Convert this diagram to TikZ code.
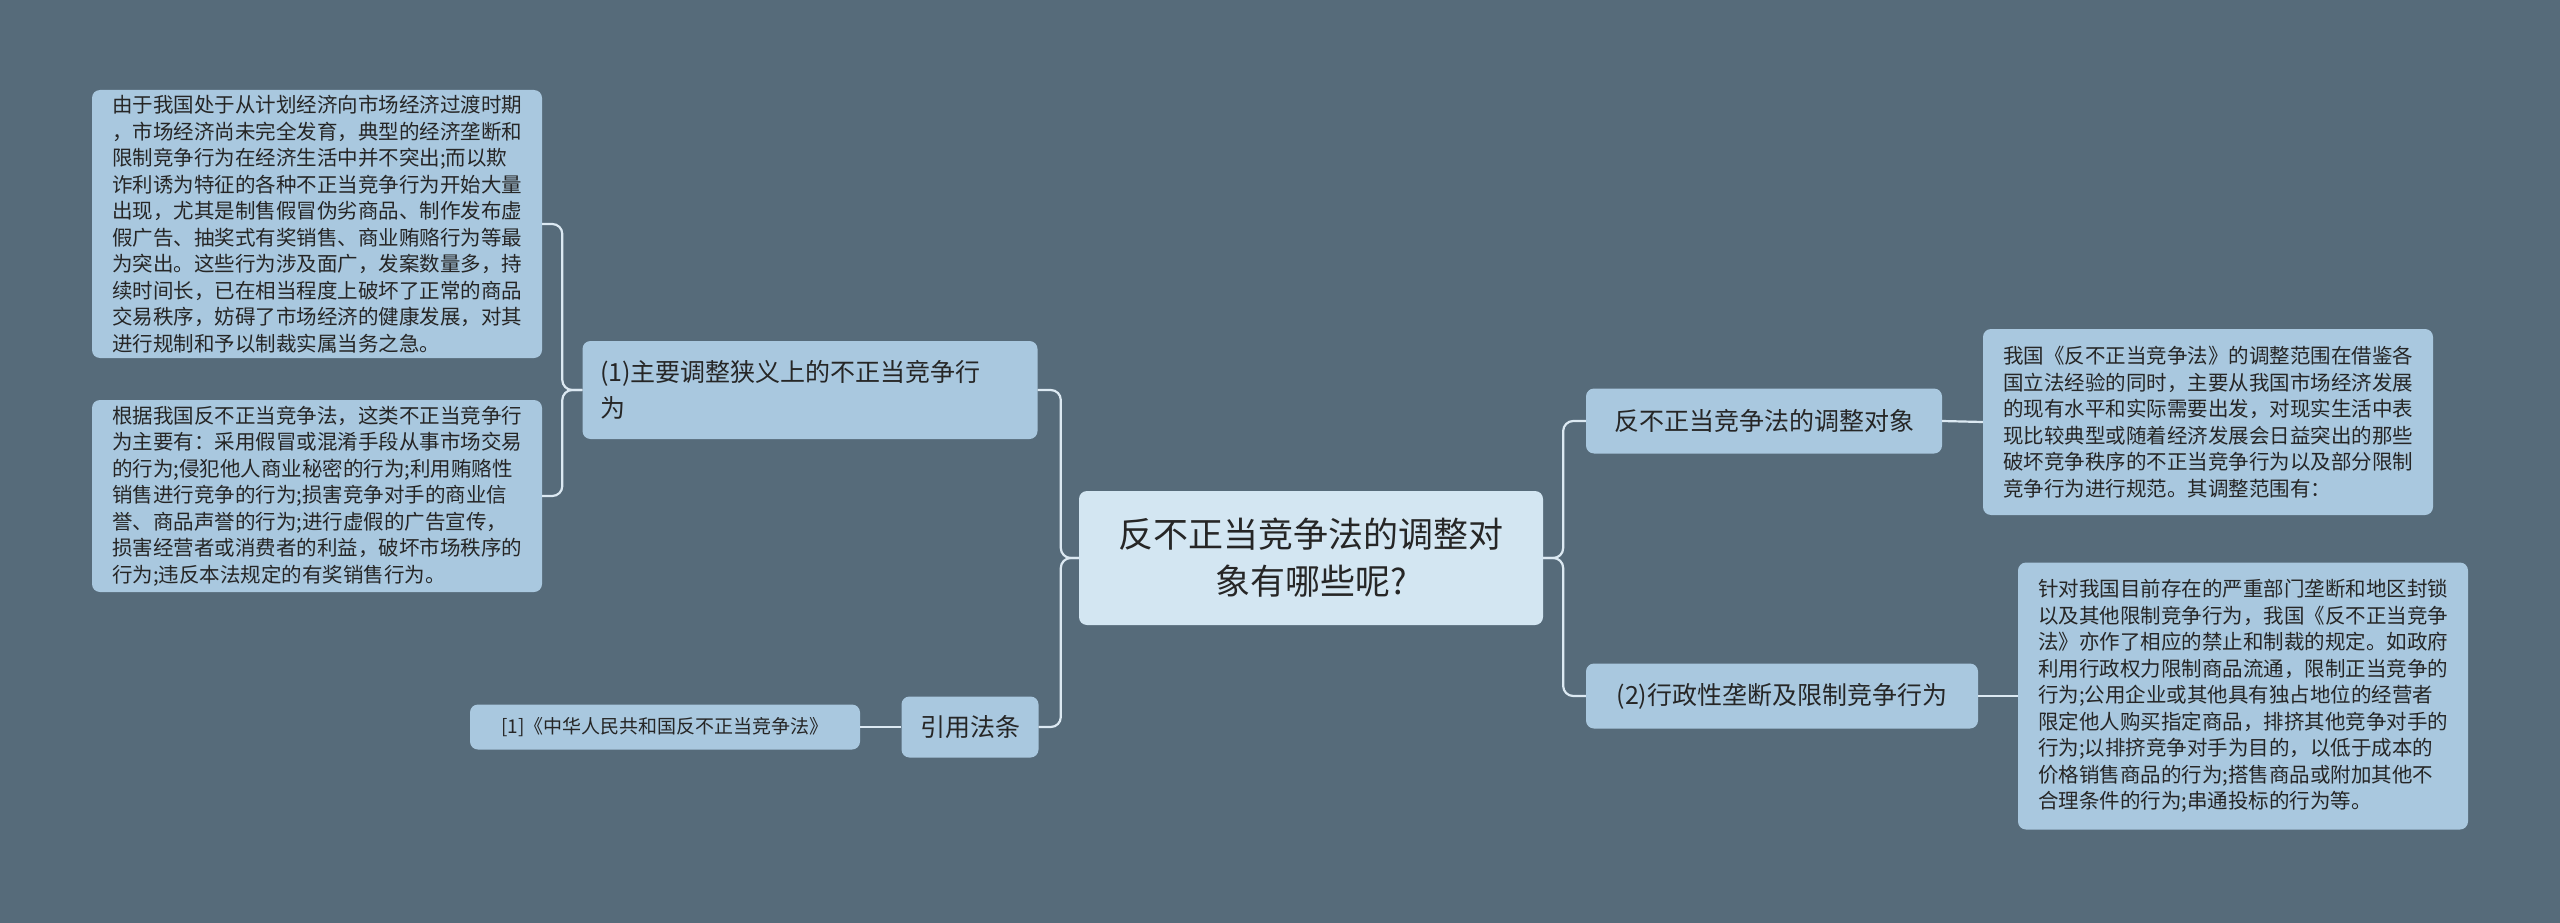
\documentclass[tikz,border=0pt]{standalone}
\usepackage{fontspec}
\setmainfont{Noto Sans CJK SC}
\begin{document}
\begin{tikzpicture}[x=1pt,y=-1pt,
  bx/.style={rounded corners=8pt,fill=nodec,inner sep=0pt,text=black!85,align=left},
  leaf/.style={bx,font=\fontsize{20.5}{26.5}\selectfont},
  br/.style={bx,font=\fontsize{25}{36}\selectfont},
  conn/.style={draw=linec,line width=2.2pt,rounded corners=10pt}]
\definecolor{bgc}{HTML}{566B7A}
\definecolor{nodec}{HTML}{A9C8DF}
\definecolor{rootc}{HTML}{D3E6F2}
\definecolor{linec}{HTML}{DCE9F2}
\fill[bgc] (0,0) rectangle (2560,923);
\useasboundingbox (0,0) rectangle (2560,923);
\node[bx,fill=rootc,minimum width=464pt,minimum height=134pt,align=center,font=\fontsize{35}{47}\selectfont] (root) at (1311,558) {反不正当竞争法的调整对\\象有哪些呢?};
\node[br,minimum width=455pt,minimum height=98pt] (n1) at (810,390) {(1)主要调整狭义上的不正当竞争行\\为\hspace*{395pt}};
\node[br,minimum width=137pt,minimum height=61pt,align=center] (cite) at (970,727) {引用法条};
\node[bx,minimum width=390pt,minimum height=45pt,align=center,font=\fontsize{19}{24}\selectfont] (c1) at (665,727) {[1]《中华人民共和国反不正当竞争法》};
\node[br,minimum width=356pt,minimum height=65pt,align=center] (r1) at (1764,421) {反不正当竞争法的调整对象};
\node[br,minimum width=392pt,minimum height=65pt,align=center] (r2) at (1782,696) {(2)行政性垄断及限制竞争行为};
\node[leaf,minimum width=450pt,minimum height=268pt] (l1) at (317,224) {由于我国处于从计划经济向市场经济过渡时期\\，市场经济尚未完全发育，典型的经济垄断和\\限制竞争行为在经济生活中并不突出;而以欺\\诈利诱为特征的各种不正当竞争行为开始大量\\出现，尤其是制售假冒伪劣商品、制作发布虚\\假广告、抽奖式有奖销售、商业贿赂行为等最\\为突出。这些行为涉及面广，发案数量多，持\\续时间长，已在相当程度上破坏了正常的商品\\交易秩序，妨碍了市场经济的健康发展，对其\\进行规制和予以制裁实属当务之急。};
\node[leaf,minimum width=450pt,minimum height=192pt] (l2) at (317,496) {根据我国反不正当竞争法，这类不正当竞争行\\为主要有：采用假冒或混淆手段从事市场交易\\的行为;侵犯他人商业秘密的行为;利用贿赂性\\销售进行竞争的行为;损害竞争对手的商业信\\誉、商品声誉的行为;进行虚假的广告宣传，\\损害经营者或消费者的利益，破坏市场秩序的\\行为;违反本法规定的有奖销售行为。};
\node[leaf,minimum width=450pt,minimum height=186pt] (rl1) at (2208,422) {我国《反不正当竞争法》的调整范围在借鉴各\\国立法经验的同时，主要从我国市场经济发展\\的现有水平和实际需要出发，对现实生活中表\\现比较典型或随着经济发展会日益突出的那些\\破坏竞争秩序的不正当竞争行为以及部分限制\\竞争行为进行规范。其调整范围有：};
\node[leaf,minimum width=450pt,minimum height=267pt] (rl2) at (2243,696) {针对我国目前存在的严重部门垄断和地区封锁\\以及其他限制竞争行为，我国《反不正当竞争\\法》亦作了相应的禁止和制裁的规定。如政府\\利用行政权力限制商品流通，限制正当竞争的\\行为;公用企业或其他具有独占地位的经营者\\限定他人购买指定商品，排挤其他竞争对手的\\行为;以排挤竞争对手为目的，以低于成本的\\价格销售商品的行为;搭售商品或附加其他不\\合理条件的行为;串通投标的行为等。};
% connectors
\draw[conn] (root.west) -- ++(-18,0) |- (n1.east);
\draw[conn] (root.west) -- ++(-18,0) |- (cite.east);
\draw[conn] (root.east) -- ++(20,0) |- (r1.west);
\draw[conn] (root.east) -- ++(20,0) |- (r2.west);
\draw[conn] (n1.west) -- ++(-20,0) |- (l1.east);
\draw[conn] (n1.west) -- ++(-20,0) |- (l2.east);
\draw[conn] (cite.west) -- (c1.east);
\draw[conn] (r1.east) -- (rl1.west);
\draw[conn] (r2.east) -- (rl2.west);
\end{tikzpicture}
\end{document}
